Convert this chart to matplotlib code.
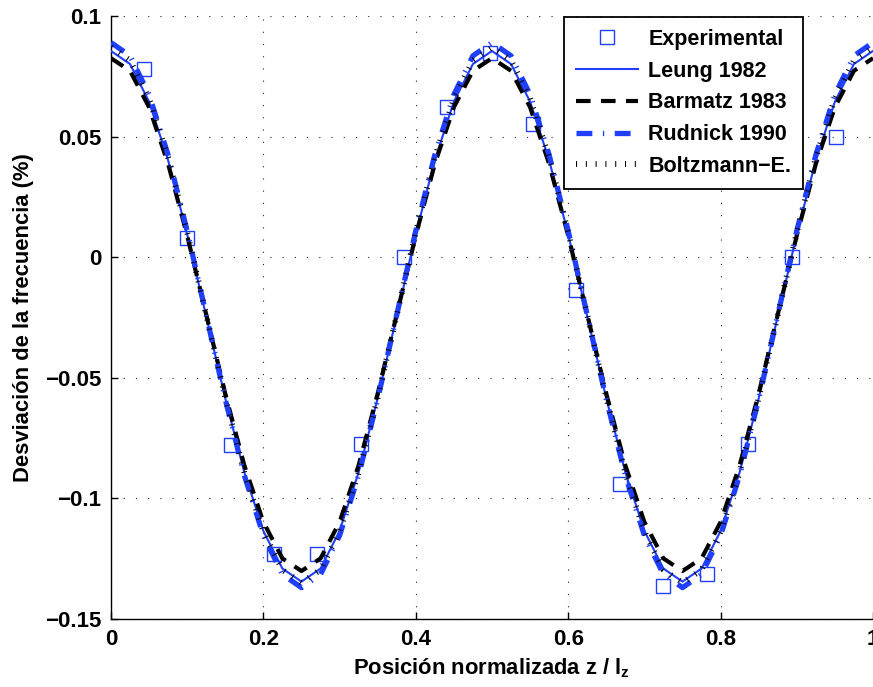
import matplotlib
matplotlib.use("Agg")
import matplotlib.pyplot as plt

plt.rcParams["font.family"] = ["Liberation Sans", "DejaVu Sans"]
plt.rcParams["font.weight"] = "bold"
plt.rcParams["axes.labelweight"] = "bold"
plt.rcParams["mathtext.fontset"] = "custom"
plt.rcParams["mathtext.bf"] = "Liberation Sans:bold"
plt.rcParams["mathtext.rm"] = "Liberation Sans:bold"

# --- data -------------------------------------------------------------------
z_curve = [0.000, 0.025, 0.050, 0.075, 0.100, 0.125, 0.150, 0.175, 0.200, 0.225,
           0.250, 0.275, 0.300, 0.325, 0.350, 0.375, 0.400, 0.425, 0.450, 0.475,
           0.500, 0.525, 0.550, 0.575, 0.600, 0.625, 0.650, 0.675, 0.700, 0.725,
           0.750, 0.775, 0.800, 0.825, 0.850, 0.875, 0.900, 0.925, 0.950, 0.975,
           1.000]

leung = [0.0855, 0.0801, 0.0645, 0.0402, 0.0095, -0.0245, -0.0585, -0.0892, -0.1135, -0.1291,
         -0.1345, -0.1291, -0.1135, -0.0892, -0.0585, -0.0245, 0.0095, 0.0402, 0.0645, 0.0801,
         0.0855, 0.0801, 0.0645, 0.0402, 0.0095, -0.0245, -0.0585, -0.0892, -0.1135, -0.1291,
         -0.1345, -0.1291, -0.1135, -0.0892, -0.0585, -0.0245, 0.0095, 0.0402, 0.0645, 0.0801,
         0.0855]

barmatz = [0.0825, 0.0773, 0.0622, 0.0387, 0.0090, -0.0238, -0.0566, -0.0863, -0.1098, -0.1249,
           -0.1301, -0.1249, -0.1098, -0.0863, -0.0566, -0.0238, 0.0090, 0.0387, 0.0622, 0.0773,
           0.0825, 0.0773, 0.0622, 0.0387, 0.0090, -0.0238, -0.0566, -0.0863, -0.1098, -0.1249,
           -0.1301, -0.1249, -0.1098, -0.0863, -0.0566, -0.0238, 0.0090, 0.0387, 0.0622, 0.0773,
           0.0825]

rudnick = [0.0890, 0.0835, 0.0674, 0.0424, 0.0109, -0.0240, -0.0589, -0.0904, -0.1154, -0.1315,
           -0.1370, -0.1315, -0.1154, -0.0904, -0.0589, -0.0240, 0.0109, 0.0424, 0.0674, 0.0835,
           0.0890, 0.0835, 0.0674, 0.0424, 0.0109, -0.0240, -0.0589, -0.0904, -0.1154, -0.1315,
           -0.1370, -0.1315, -0.1154, -0.0904, -0.0589, -0.0240, 0.0109, 0.0424, 0.0674, 0.0835,
           0.0890]

boltzmann = [0.0870, 0.0816, 0.0658, 0.0413, 0.0103, -0.0240, -0.0583, -0.0893, -0.1138, -0.1296,
             -0.1350, -0.1296, -0.1138, -0.0893, -0.0583, -0.0240, 0.0103, 0.0413, 0.0658, 0.0816,
             0.0870, 0.0816, 0.0658, 0.0413, 0.0103, -0.0240, -0.0583, -0.0893, -0.1138, -0.1296,
             -0.1350, -0.1296, -0.1138, -0.0893, -0.0583, -0.0240, 0.0103, 0.0413, 0.0658, 0.0816,
             0.0870]

z_exp = [0.043, 0.100, 0.157, 0.214, 0.271, 0.328, 0.385, 0.441, 0.498, 0.554,
         0.610, 0.668, 0.725, 0.782, 0.836, 0.894, 0.951]
dev_exp = [0.078, 0.008, -0.078, -0.123, -0.123, -0.0775, 0.000, 0.0623, 0.0845, 0.0551,
           -0.0136, -0.094, -0.1362, -0.1315, -0.0775, 0.000, 0.0497]

x_ticks = [0, 0.2, 0.4, 0.6, 0.8, 1.0]
x_ticklabels = ["0", "0.2", "0.4", "0.6", "0.8", "1"]
y_ticks = [-0.15, -0.1, -0.05, 0, 0.05, 0.1]
y_ticklabels = ["\u22120.15", "\u22120.1", "\u22120.05", "0", "0.05", "0.1"]

BLUE = "#1f3fff"

# --- figure -----------------------------------------------------------------
fig = plt.figure(figsize=(8.73, 6.87), dpi=100)
ax = fig.add_axes([0.1271, 0.0990, 0.8729, 0.8777])

ax.plot(z_exp, dev_exp, linestyle="none", marker="s", markersize=9.5,
        markerfacecolor="none", markeredgecolor=BLUE, markeredgewidth=1.0,
        label="Experimental", zorder=3)
ax.plot(z_curve, leung, color=BLUE, lw=1.5, label="Leung 1982", zorder=4)
ax.plot(z_curve, barmatz, color="black", lw=3.0, dashes=(3.5, 2.5),
        label="Barmatz 1983", zorder=5)
ax.plot(z_curve, rudnick, color=BLUE, lw=3.8, dashes=(3.0, 2.0, 0.25, 2.0),
        label="Rudnick 1990", zorder=6)
ax.plot(z_curve, boltzmann, color="black", lw=4.2, dashes=(0.18, 1.5),
        label="Boltzmann\u2212E.", zorder=7)

ax.set_xlim(0, 1)
ax.set_ylim(-0.15, 0.1)
ax.set_xticks(x_ticks)
ax.set_xticklabels(x_ticklabels)
ax.set_yticks(y_ticks)
ax.set_yticklabels(y_ticklabels)
ax.tick_params(direction="in", length=5, width=1, labelsize=16, pad=7)

ax.grid(True, color="#222222", linestyle=(0, (1, 10)), linewidth=0.8)
ax.set_axisbelow(True)
for side in ["top", "right"]:
    ax.spines[side].set_visible(False)
for side in ["left", "bottom"]:
    ax.spines[side].set_linewidth(1.0)

ax.set_xlabel(r"Posición normalizada z / l$_\mathbf{z}$", fontsize=15.8, labelpad=5)
ax.set_ylabel("Desviación de la frecuencia (%)", fontsize=15.8, labelpad=8)

leg = ax.legend(loc="upper right", bbox_to_anchor=(803 / 873, 1 - 17 / 687),
                bbox_transform=fig.transFigure, borderaxespad=0,
                fontsize=15.5, numpoints=1, handlelength=2.9, handletextpad=0.45,
                labelspacing=0.5, borderpad=0.55, fancybox=False, framealpha=1)
leg.get_frame().set_edgecolor("black")
leg.get_frame().set_linewidth(1.3)

fig.savefig("out.png", dpi=100)
